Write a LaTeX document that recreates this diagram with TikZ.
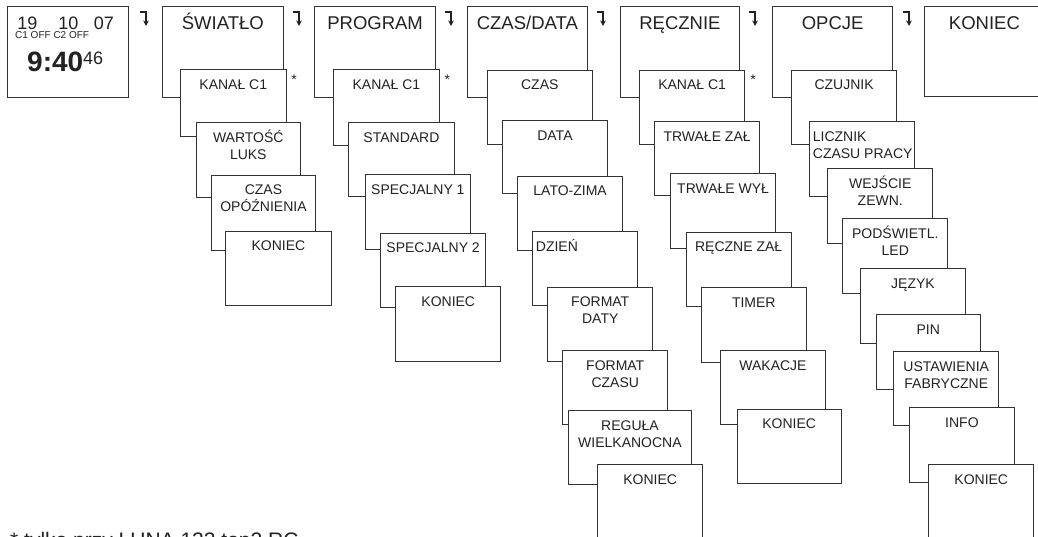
\documentclass[tikz,border=0pt]{standalone}
\usepackage{fontspec}
\setmainfont{Liberation Sans}
\usetikzlibrary{arrows.meta,calc}
\definecolor{ln}{HTML}{333333}
\definecolor{tx}{HTML}{222222}
\tikzset{
 mbox/.style={draw=ln, fill=white, line width=0.9pt, inner sep=0pt, anchor=north west},
 toplbl/.style={inner sep=0pt, anchor=north, text=tx, font=\fontsize{18.5}{22}\selectfont},
 sublbl/.style={inner sep=0pt, anchor=north, text=tx, align=center, font=\fontsize{14}{17}\selectfont},
 sublbll/.style={inner sep=0pt, anchor=north west, text=tx, align=left, font=\fontsize{14}{17}\selectfont},
 plain/.style={inner sep=0pt, text=tx},
 turn/.style={draw=tx, line width=1.2pt, -{Stealth[length=5.5pt,width=5.5pt]}},
 starst/.style={inner sep=0pt, anchor=base, text=tx, font=\fontsize{14}{17}\selectfont},
}
\newcommand\topbx[6]{%
  \node[mbox, minimum width=#4pt, minimum height=#5pt] (#1) at (#2,#3) {};
  \node[toplbl] (#1t) at ([yshift=-5.5pt]#1.north) {\rule{0pt}{17.5pt}#6};}
\newcommand\subbx[6]{%
  \node[mbox, minimum width=#4pt, minimum height=#5pt] (#1) at (#2,#3) {};
  \node[sublbl] (#1t) at ([yshift=-6.5pt]#1.north) {\rule{0pt}{13.5pt}#6};}
\newcommand\subbxl[6]{%
  \node[mbox, minimum width=#4pt, minimum height=#5pt] (#1) at (#2,#3) {};
  \node[sublbll] (#1t) at ([xshift=3.4pt,yshift=-6.5pt]#1.north west) {\rule{0pt}{13.5pt}#6};}
\begin{document}
\begin{tikzpicture}[x=1pt,y=-1pt]
\useasboundingbox (0,0) rectangle (1038,537);
\clip (0,0) rectangle (1038,537);
% display
\node[mbox, minimum width=120.4pt, minimum height=91pt] (disp) at (7.3,6) {};
\node[plain, anchor=base, font=\fontsize{18}{20}\selectfont] (d19) at (27.5,29.5) {19};
\node[plain, anchor=base, font=\fontsize{18}{20}\selectfont] (d10) at (68.5,29.5) {10};
\node[plain, anchor=base, font=\fontsize{18}{20}\selectfont] (d07) at (104,29.5) {07};
\node[plain, anchor=base west, font=\fontsize{10}{11}\selectfont] (doff) at (15,39) {C1 OFF C2 OFF};
\node[plain, anchor=base west, font=\fontsize{28}{30}\selectfont\bfseries] (dtime) at (27,72) {9:40};
\node[plain, anchor=base west, font=\fontsize{18}{20}\selectfont] (dsec) at (83,65) {46};
% arrows
\foreach \i/\ax in {1/146,2/299,3/451,4/603,5/755,6/909}{
  \coordinate (ar\i) at (\ax,12);
  \draw[turn] ($(ar\i)+(-6,0)$) -- (ar\i) -- ($(ar\i)+(0,14)$);
}
% stars
\node[starst] (st1) at (294,85) {*};
\node[starst] (st2) at (447.3,85) {*};
\node[starst] (st3) at (753,85) {*};
% SWIATLO
\topbx{sw}{162}{6}{120.7}{90.7}{ŚWIATŁO}
\subbx{sw1}{180}{69}{105.7}{67}{KANAŁ C1}
\subbx{sw2}{195.7}{122}{104.3}{75}{WARTOŚĆ\\LUKS}
\subbx{sw3}{210.7}{174.7}{104.6}{75.3}{CZAS\\OPÓŹNIENIA}
\subbx{sw4}{225.3}{230.7}{105.4}{74.6}{KONIEC}
% PROGRAM
\topbx{pr}{314.3}{6}{120.7}{90.7}{PROGRAM}
\subbx{pr1}{333.3}{69}{105.4}{76.3}{KANAŁ C1}
\subbx{pr2}{348.3}{122.3}{105.4}{73.7}{STANDARD}
\subbx{pr3}{364.8}{174.5}{105.2}{74.5}{SPECJALNY 1}
\subbx{pr4}{380}{232.7}{105.3}{74.3}{SPECJALNY 2}
\subbx{pr5}{395.3}{286}{105}{74.7}{KONIEC}
% CZAS/DATA
\topbx{cd}{466.7}{6}{120.3}{90.7}{CZAS/DATA}
\subbx{cd1}{486.7}{69.7}{105.3}{74.3}{CZAS}
\subbx{cd2}{502}{120}{105}{73.3}{DATA}
\subbx{cd3}{517.3}{175.7}{104.7}{74.3}{LATO-ZIMA}
\subbxl{cd4}{532.3}{231}{105}{74}{DZIEŃ}
\subbx{cd5}{547.3}{286.7}{105}{74}{FORMAT\\DATY}
\subbx{cd6}{562.3}{350}{105}{74}{FORMAT\\CZASU}
\subbx{cd7}{567.7}{410}{123.6}{74}{REGUŁA\\WIELKANOCNA}
\subbx{cd8}{597.3}{464.3}{104.7}{80}{KONIEC}
% RECZNIE
\topbx{re}{620}{6}{119}{90.7}{RĘCZNIE}
\subbx{re1}{639.3}{69.7}{104.7}{74.3}{KANAŁ C1}
\subbx{re2}{654.3}{121}{104.7}{74}{TRWAŁE ZAŁ}
\subbx{re3}{670}{173.3}{105.3}{74.4}{TRWAŁE WYŁ}
\subbx{re4}{685.7}{231.7}{105}{74.3}{RĘCZNE ZAŁ}
\subbx{re5}{701}{287.3}{104.7}{75}{TIMER}
\subbx{re6}{720}{350}{105}{74.3}{WAKACJE}
\subbx{re7}{736.7}{408.7}{104}{74}{KONIEC}
% OPCJE
\topbx{op}{772.3}{6}{119.7}{90.7}{OPCJE}
\subbx{op1}{791}{69.7}{105.3}{74.3}{CZUJNIK}
\subbxl{op2}{809.3}{121}{105}{74.7}{LICZNIK\\CZASU PRACY}
\subbx{op3}{827.3}{168.3}{105}{74.4}{WEJŚCIE\\ZEWN.}
\subbx{op4}{842.3}{218.3}{105}{74.4}{PODŚWIETL.\\LED}
\subbx{op5}{860}{268.3}{105}{74.4}{JĘZYK}
\subbx{op6}{875.7}{314}{104.3}{74.7}{PIN}
\subbx{op7}{893.3}{351}{105}{74.3}{USTAWIENIA\\FABRYCZNE}
\subbx{op8}{909}{407}{105}{74.7}{INFO}
\subbx{op9}{928.3}{464.3}{105}{80}{KONIEC}
% KONIEC top
\topbx{ko}{924}{6}{120}{90}{KONIEC}
% note
\node[plain, anchor=base west, font=\fontsize{21}{24}\selectfont] (note) at (10,547) {* tylko przy LUNA 122 top2 RC};
\end{tikzpicture}
\end{document}
